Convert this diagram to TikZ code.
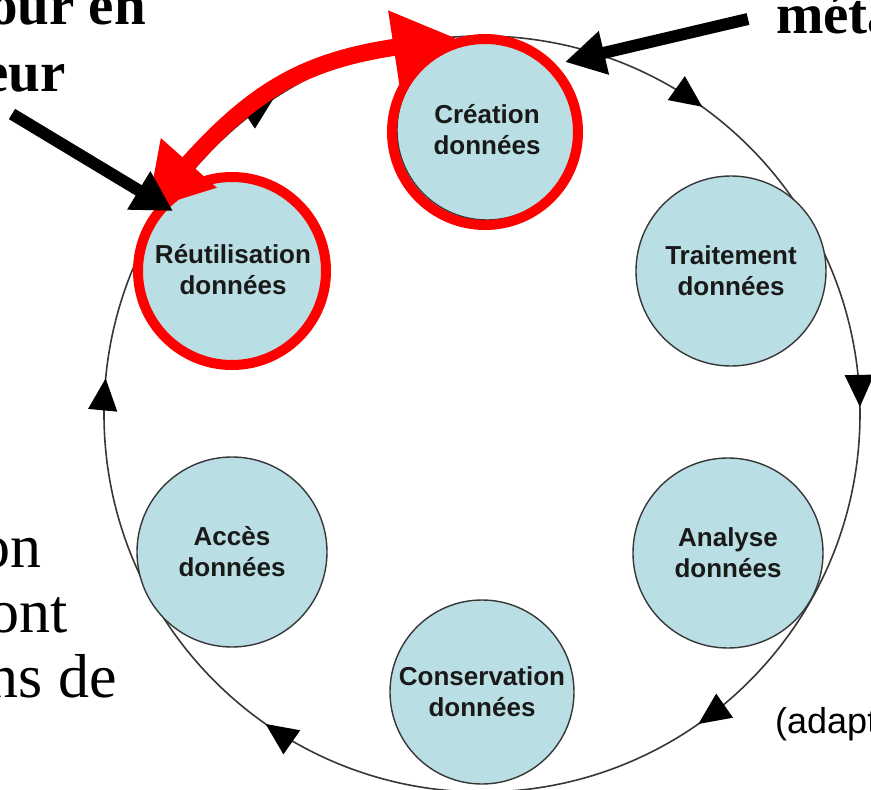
\documentclass[tikz,border=0pt]{standalone}
\usepackage{fontspec}
\setmainfont{Liberation Serif}
\newfontfamily\arialf{Liberation Sans}
\usetikzlibrary{arrows.meta,decorations.markings}
\definecolor{nodeblue}{RGB}{185,222,227}
\definecolor{edgegray}{RGB}{55,55,55}
\definecolor{txtdark}{RGB}{25,25,25}
\begin{document}
\begin{tikzpicture}[x=1pt,y=-1pt,
  stage/.style={circle, draw=edgegray, line width=1.4pt, fill=nodeblue,
    minimum size=#1, inner sep=0pt, align=center, text=txtdark,
    font=\arialf\bfseries\fontsize{26}{31}\selectfont},
  cycline/.style={draw=edgegray, line width=1.6pt},
  redring/.style={draw=red, line width=10pt},
  redarrow/.style={draw=red, line width=17pt,
    {Triangle[length=63pt,width=70pt]}-{Triangle[length=63pt,width=70pt]}},
  blackarrow/.style={draw=black, line width=12pt,
    -{Triangle[length=40pt,width=42pt]}},
  bigbold/.style={inner sep=0pt, font=\bfseries\fontsize{57}{66}\selectfont},
  bigreg/.style={inner sep=0pt, font=\fontsize{62}{66}\selectfont},
  srcnote/.style={inner sep=0pt, font=\arialf\fontsize{36}{40}\selectfont}
]
\useasboundingbox (0,0) rectangle (871,790);
\clip (0,0) rectangle (871,790);

% cycle circle with clockwise arrowheads
\coordinate (cyc) at (482,414);
\draw[cycline, decoration={markings,
    mark=at position 0.153 with {\arrow[black]{Triangle[length=32pt,width=29pt]}},
    mark=at position 0.347 with {\arrow[black]{Triangle[length=32pt,width=29pt]}},
    mark=at position 0.515 with {\arrow[black]{Triangle[length=32pt,width=29pt]}},
    mark=at position 0.657 with {\arrow[black]{Triangle[length=32pt,width=29pt]}},
    mark=at position 0.849 with {\arrow[black]{Triangle[length=32pt,width=29pt]}},
    mark=at position 0.997 with {\arrow[black]{Triangle[length=32pt,width=29pt]}}},
  postaction={decorate}] (cyc) circle[radius=378];

% stages
\node[stage=180pt] (cre) at (487,130) {Création\\données};
\node[stage=190pt] (tra) at (731,271) {Traitement\\données};
\node[stage=190pt] (ana) at (728,553) {Analyse\\données};
\node[stage=184pt] (con) at (482,692) {Conservation\\données};
\node[stage=190pt] (acc) at (232,552) {Accès\\données};
\node[stage=184pt] (reu) at (233,270) {Réutilisation\\données};

% red highlight rings
\draw[redring] (485,132) circle[radius=93];
\draw[redring] (232,271) circle[radius=94];

% red double arrow between reuse and creation
\coordinate (rA) at (147,210);
\coordinate (rB) at (456,38);
\draw[redarrow] (rA) .. controls (257,86) and (310,60) .. (rB);

% black pointer arrows
\coordinate (b1s) at (12,114);
\coordinate (b1t) at (173,211);
\draw[blackarrow] (b1s) -- (b1t);
\coordinate (b2s) at (748,19);
\coordinate (b2t) at (565,62);
\draw[blackarrow] (b2s) -- (b2t);

% texts (clipped at the edges, as in the reference)
\node[bigbold, anchor=base east] (ta) at (146,24) {our en};
\node[bigbold, anchor=base east] (tb) at (66,91) {eur};
\node[bigbold, anchor=base west] (tc) at (776,33) {méta};
\node[bigreg, anchor=base east] (td) at (42,567) {on};
\node[bigreg, anchor=base east] (te) at (68,632) {ont};
\node[bigreg, anchor=base east] (tf) at (117,697) {ns de};
\node[srcnote, anchor=base west] (tg) at (775,733) {(adapt};
\end{tikzpicture}
\end{document}
